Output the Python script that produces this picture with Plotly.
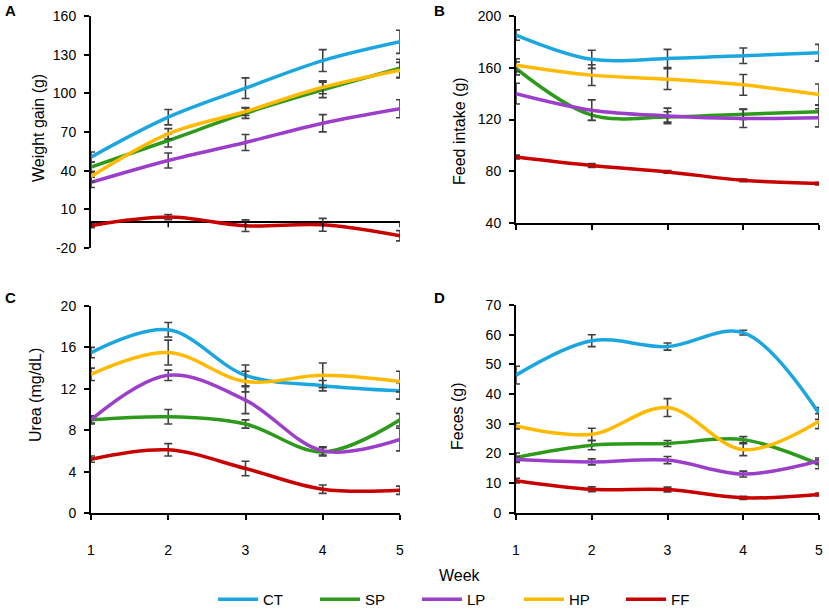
import plotly.graph_objects as go

weeks = [1, 2, 3, 4, 5]
groups = ["CT", "SP", "LP", "HP", "FF"]
colors = ["#1CA6DF", "#2E9A1C", "#9B3FCB", "#FFBA00", "#C80000"]

# panel A - weight gain (g), order follows groups
gain = [
    [50.5, 81.5, 104, 125.4, 140],
    [42.7, 63.4, 84.6, 102.7, 119.5],
    [30.9, 47.9, 61.9, 76.8, 88],
    [35.5, 68.6, 85.9, 104.7, 118],
    [-2.7, 4, -2.7, -2, -10.5],
]
gain_err = [
    [4, 6, 8, 8.5, 9],
    [4, 5, 4, 6, 7],
    [4, 5.8, 6.2, 6.7, 7],
    [4, 4, 3, 5, 6],
    [1.5, 2, 4.5, 5, 4],
]
gain_ticks = [-20, 10, 40, 70, 100, 130, 160]

# panel B - feed intake (g)
intake = [
    [185.3, 166.5, 167.2, 169.3, 171.6],
    [159.5, 123.4, 122, 124.1, 126],
    [140, 127.2, 122.8, 120.8, 121.3],
    [162, 154.3, 151.2, 146.8, 139.4],
    [91, 84.4, 79.5, 73, 70.5],
]
intake_err = [
    [4, 7, 7, 6, 6.5],
    [5, 4, 4, 4, 5],
    [8, 8, 6, 7, 7],
    [5, 8, 8, 8, 8],
    [1.5, 1.5, 1, 1, 1],
]

# panel C - urea (mg/dL)
urea = [
    [15.5, 17.7, 13.3, 12.3, 11.8],
    [9.0, 9.3, 8.6, 5.9, 9.0],
    [9.0, 13.3, 10.9, 6.0, 7.1],
    [13.4, 15.5, 12.7, 13.3, 12.7],
    [5.2, 6.1, 4.3, 2.3, 2.2],
]
urea_err = [
    [0.5, 0.7, 1.0, 0.5, 0.8],
    [0.3, 0.7, 0.4, 0.4, 0.6],
    [0.4, 0.5, 1.3, 0.4, 1.1],
    [0.6, 1.2, 1.0, 1.2, 1.0],
    [0.3, 0.6, 0.7, 0.4, 0.4],
]

# panel D - feces (g)
feces = [
    [46.4, 58, 56, 60.7, 33.5],
    [18.7, 22.8, 23.4, 24.7, 16.4],
    [18, 17.2, 17.8, 13.1, 17.5],
    [29.3, 26.5, 35.5, 21.3, 30.9],
    [10.9, 8.0, 7.9, 5.1, 6.2],
]
feces_err = [
    [3, 2, 1.2, 0.8, 2],
    [1.5, 1.5, 1, 1, 1.5],
    [1, 1, 1.2, 1, 1],
    [1, 2, 3, 2, 2.5],
    [0.8, 0.8, 0.8, 0.5, 0.5],
]

# figure is a bit taller than the window so the legend sits near the bottom edge
W, H = 829, 616


def px(x):
    return x / W


def py(y):
    return 1 - y / H


fig = go.Figure()

panels = [
    (gain, gain_err, "x", "y"),
    (intake, intake_err, "x2", "y2"),
    (urea, urea_err, "x3", "y3"),
    (feces, feces_err, "x4", "y4"),
]

for p, (vals, errs, xa, ya) in enumerate(panels):
    for i, g in enumerate(groups):
        fig.add_trace(go.Scatter(
            x=weeks, y=vals[i], mode="lines", name=g,
            line=dict(color=colors[i], width=3.5, shape="spline", smoothing=1),
            error_y=dict(type="data", array=errs[i], color="#404040", thickness=1.6, width=4),
            xaxis=xa, yaxis=ya, showlegend=(p == 0),
        ))

tick_font = dict(family="Liberation Sans, Arial", size=14, color="#000")
common = dict(showgrid=False, showline=True, linecolor="#000", linewidth=2,
              ticks="outside", ticklen=5, tickwidth=1.5, tickcolor="#000",
              tickfont=tick_font, zeroline=False, automargin=False)
yax = dict(common, ticklabelstandoff=5)
# week labels pushed down one line, as in the original
xax = dict(common, tickvals=weeks, ticktext=["<br>%d" % w for w in weeks])

xdomL = [px(91), px(400)]
xdomR = [px(516), px(819)]

fig.update_layout(
    width=W, height=H,
    margin=dict(l=0, r=0, t=0, b=0),
    paper_bgcolor="white", plot_bgcolor="white",
    font=dict(family="Liberation Sans, Arial", size=15, color="#000"),
    xaxis=dict(domain=xdomL, range=[1, 5], showgrid=False, showline=False,
               zeroline=False, showticklabels=False, ticks="", anchor="y"),
    yaxis=dict(domain=[py(248), py(16)], range=[-20, 160],
               tickvals=gain_ticks, ticktext=[str(t) for t in gain_ticks],
               **{**yax, "zeroline": True}, zerolinecolor="#000", zerolinewidth=2,
               anchor="x"),
    xaxis2=dict(domain=xdomR, range=[1, 5], dtick=1, showticklabels=False,
                anchor="y2", **common),
    yaxis2=dict(domain=[py(223), py(16)], range=[40, 200], dtick=40,
                anchor="x2", **yax),
    xaxis3=dict(domain=xdomL, range=[1, 5], anchor="y3", **xax),
    yaxis3=dict(domain=[py(513), py(306)], range=[0, 20], dtick=4,
                anchor="x3", **yax),
    xaxis4=dict(domain=xdomR, range=[1, 5], anchor="y4", **xax),
    yaxis4=dict(domain=[py(513), py(305)], range=[0, 70], dtick=10,
                anchor="x4", **yax),
    legend=dict(orientation="h", x=px(213), xanchor="left", y=0, yanchor="bottom",
                entrywidth=47, entrywidthmode="pixels", itemwidth=40,
                font=dict(size=15), bgcolor="rgba(0,0,0,0)"),
)

# small ticks on the zero line of panel A
for w in weeks:
    fig.add_shape(type="line", xref="x", yref="y", x0=w, x1=w,
                  ysizemode="pixel", yanchor=0, y0=0, y1=-5,
                  line=dict(color="#000", width=1.5))

titles = [
    ("Weight gain (g)", 38, 128),
    ("Feed intake (g)", 459, 131),
    ("Urea (mg/dL)", 35, 395),
    ("Feces (g)", 457, 416),
]
for text, x, y in titles:
    fig.add_annotation(text=text, x=px(x), y=py(y), xref="paper", yref="paper",
                       textangle=-90, showarrow=False, font=dict(size=16),
                       xanchor="center", yanchor="middle")

for text, x, y in [("A", 10, 10), ("B", 439, 10), ("C", 10, 297), ("D", 439, 297)]:
    fig.add_annotation(text="<b>%s</b>" % text, x=px(x), y=py(y), xref="paper", yref="paper",
                       showarrow=False, font=dict(size=15), xanchor="center", yanchor="middle")

fig.add_annotation(text="Week", x=px(460), y=py(575), xref="paper", yref="paper",
                   showarrow=False, font=dict(size=16), xanchor="center", yanchor="middle")

fig.write_html("out.html", config={"displayModeBar": False},
               post_script="document.body.style.margin='0';document.body.style.overflow='hidden';")
